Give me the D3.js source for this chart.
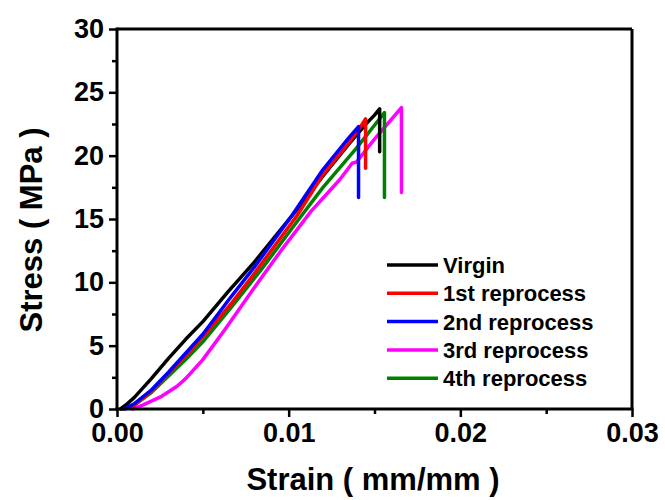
<!DOCTYPE html>
<html>
<head>
<meta charset="utf-8">
<script src="https://cdn.jsdelivr.net/npm/d3@7"></script>
<style>
  html, body { margin: 0; padding: 0; background: #fff; }
  svg { display: block; font-family: "Liberation Sans", Arial, sans-serif; font-weight: bold; }
</style>
</head>
<body>
<svg id="chart" width="665" height="500"></svg>
<script>
// ---- data ----
const seriesNames = ["Virgin", "1st reprocess", "2nd reprocess", "3rd reprocess", "4th reprocess"];
const seriesColors = ["#000000", "#ff0000", "#0000ff", "#ff00ff", "#008000"];

const virginStrain = [0.0002, 0.0005, 0.001, 0.002, 0.003, 0.004, 0.005, 0.0065, 0.008, 0.0104, 0.012, 0.0135, 0.0145, 0.0150, 0.0153, 0.0153];
const virginStress = [0, 0.3, 0.9, 2.4, 4.0, 5.5, 6.9, 9.3, 11.6, 15.6, 18.4, 20.9, 22.5, 23.2, 23.7, 20.3];

const rep1Strain = [0.0005, 0.001, 0.002, 0.003, 0.004, 0.005, 0.0067, 0.008, 0.0105, 0.012, 0.0135, 0.0142, 0.01448, 0.01448];
const rep1Stress = [0, 0.3, 1.4, 2.8, 4.2, 5.7, 8.4, 10.7, 15.3, 18.5, 21.0, 22.3, 22.9, 19.0];

const rep2Strain = [0.0004, 0.001, 0.002, 0.003, 0.004, 0.005, 0.0065, 0.008, 0.0102, 0.012, 0.0135, 0.01407, 0.01407];
const rep2Stress = [0, 0.4, 1.5, 2.9, 4.4, 5.9, 8.6, 11.2, 15.3, 18.9, 21.4, 22.3, 16.7];

const rep3Strain = [0.0009, 0.0015, 0.0026, 0.0035, 0.004, 0.005, 0.0063, 0.0079, 0.0095, 0.0113, 0.01297, 0.0137, 0.01395, 0.0150, 0.01657, 0.01657];
const rep3Stress = [0, 0.3, 1.0, 1.8, 2.4, 3.9, 6.3, 9.4, 12.4, 15.6, 18.1, 19.4, 19.5, 21.3, 23.8, 17.1];

const rep4Strain = [0.0003, 0.001, 0.002, 0.003, 0.004, 0.005, 0.0067, 0.0084, 0.0106, 0.012, 0.01395, 0.0150, 0.01558, 0.01558];
const rep4Stress = [0, 0.3, 1.3, 2.6, 3.9, 5.3, 8.1, 11.0, 15.0, 17.5, 20.6, 22.4, 23.4, 16.7];

const xTicks = [0, 0.01, 0.02, 0.03];
const xMinorTicks = [0.005, 0.015, 0.025];
const yTicks = [0, 5, 10, 15, 20, 25, 30];
const yMinorTicks = [2.5, 7.5, 12.5, 17.5, 22.5, 27.5];

const xTitle = "Strain ( mm/mm )";
const yTitle = "Stress ( MPa )";

const seriesStrain = [virginStrain, rep1Strain, rep2Strain, rep3Strain, rep4Strain];
const seriesStress = [virginStress, rep1Stress, rep2Stress, rep3Stress, rep4Stress];

// ---- layout ----
const L = 117, R = 632, T = 29, B = 409;
const svg = d3.select("#chart");
const x = d3.scaleLinear().domain([0, 0.03]).range([L, R]);
const y = d3.scaleLinear().domain([0, 30]).range([B, T]);

// frame (top, right)
svg.append("line").attr("x1", L).attr("x2", R).attr("y1", T).attr("y2", T)
  .attr("stroke", "#000").attr("stroke-width", 3);
svg.append("line").attr("x1", R).attr("x2", R).attr("y1", T).attr("y2", B)
  .attr("stroke", "#000").attr("stroke-width", 3);

// curves
const line = d3.line().x(d => x(d[0])).y(d => y(d[1]));
const drawOrder = [3, 4, 0, 1, 2];
drawOrder.forEach(i => {
  const pts = seriesStrain[i].map((s, k) => [s, seriesStress[i][k]]);
  svg.append("path").datum(pts)
    .attr("d", line)
    .attr("fill", "none")
    .attr("stroke", seriesColors[i])
    .attr("stroke-width", 3.5)
    .attr("stroke-linejoin", "round")
    .attr("stroke-linecap", "round");
});

// x axis
const xAxis = svg.append("g").attr("transform", `translate(0,${B})`)
  .call(d3.axisBottom(x).tickValues(xTicks).tickFormat(d3.format(".2f")).tickSize(8).tickPadding(6));
const xMinor = svg.append("g").attr("transform", `translate(0,${B})`)
  .call(d3.axisBottom(x).tickValues(xMinorTicks).tickFormat("").tickSize(5));
// y axis
const yAxis = svg.append("g").attr("transform", `translate(${L},0)`)
  .call(d3.axisLeft(y).tickValues(yTicks).tickFormat(d3.format("d")).tickSize(8).tickPadding(5));
const yMinor = svg.append("g").attr("transform", `translate(${L},0)`)
  .call(d3.axisLeft(y).tickValues(yMinorTicks).tickFormat("").tickSize(5));

[xAxis, xMinor, yAxis, yMinor].forEach(g => {
  g.select(".domain").attr("stroke", "#000").attr("stroke-width", 3);
  g.selectAll(".tick line").attr("stroke", "#000").attr("stroke-width", 2.5);
  g.selectAll("text").attr("fill", "#000").style("font-size", "27px")
    .style("font-family", "'Liberation Sans', Arial, sans-serif").style("font-weight", "bold");
});
xMinor.select(".domain").remove();
yMinor.select(".domain").remove();
xAxis.select(".domain").attr("d", `M${L - 1.5},0H${R + 1.5}`);
yAxis.select(".domain").attr("d", `M0,${B + 1.5}V${T - 1.5}`);

// axis titles
svg.append("text").attr("x", 373).attr("y", 490).attr("text-anchor", "middle")
  .style("font-size", "31px").attr("fill", "#000").text(xTitle);
svg.append("text").attr("transform", `translate(42,230) rotate(-90)`).attr("text-anchor", "middle")
  .style("font-size", "31px").attr("fill", "#000").text(yTitle);

// legend
const legY0 = 265, legDy = 28.3;
seriesNames.forEach((name, i) => {
  const yy = legY0 + i * legDy;
  svg.append("line").attr("x1", 387).attr("x2", 438).attr("y1", yy).attr("y2", yy)
    .attr("stroke", seriesColors[i]).attr("stroke-width", 3.5);
  svg.append("text").attr("x", 443).attr("y", yy).attr("dy", "0.36em")
    .style("font-size", "22px").attr("fill", "#000").text(name);
});
</script>
</body>
</html>
